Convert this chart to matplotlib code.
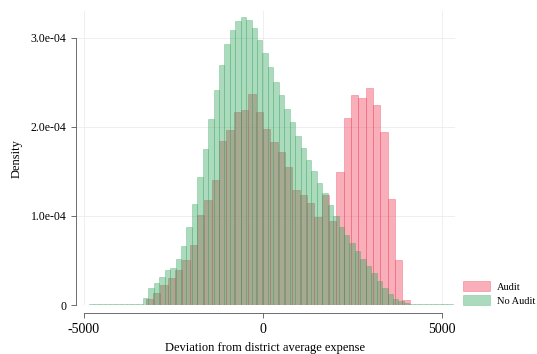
import numpy as np
import matplotlib
matplotlib.use("Agg")
import matplotlib.pyplot as plt

# ---- data (density, units of 1e-4) ----
noaudit_start = -4872.0
noaudit_width = 152.0
noaudit_density = [
    0.006, 0.006, 0.006, 0.006, 0.006, 0.006, 0.006, 0.006, 0.006, 0.01,
    0.08, 0.19, 0.25, 0.32, 0.39, 0.42, 0.52, 0.66, 0.88, 1.14,
    1.44, 1.75, 2.09, 2.41, 2.70, 2.93, 3.09, 3.19, 3.24, 3.20,
    3.11, 2.98, 2.83, 2.67, 2.51, 2.36, 2.20, 2.05, 1.90, 1.76,
    1.63, 1.50, 1.37, 1.26, 1.12, 1.00, 0.88, 0.79, 0.70, 0.61,
    0.52, 0.44, 0.36, 0.27, 0.19, 0.12, 0.07, 0.04, 0.02, 0.01,
    0.006, 0.006, 0.006, 0.006, 0.006, 0.006, 0.006,
]
audit_start = -3272.0
audit_width = 205.0
audit_density = [
    0.07, 0.14, 0.22, 0.30, 0.39, 0.50, 0.67, 1.01, 1.18, 1.40,
    1.84, 1.97, 2.17, 2.19, 2.37, 2.17, 1.98, 1.83, 1.72, 1.55,
    1.29, 1.24, 1.15, 0.99, 1.24, 0.94, 1.49, 2.10, 2.36, 2.33,
    2.44, 2.25, 1.94, 1.19, 0.51, 0.06,
]
series_labels = ["Audit", "No Audit"]
xticks = [-5000, 0, 5000]
yticks = [0, 1e-4, 2e-4, 3e-4]
ytick_labels = ["0", "1.0e-04", "2.0e-04", "3.0e-04"]
xlabel = "Deviation from district average expense"
ylabel = "Density"

plt.rcParams['font.family'] = ['Liberation Serif', 'DejaVu Serif']

fig = plt.figure(figsize=(5.37, 3.54), dpi=100)
ax = fig.add_axes([0.1415, 0.1384, 0.705, 0.83])

a_h = np.array(audit_density) * 1e-4
a_x = audit_start + audit_width * np.arange(len(a_h))
n_h = np.array(noaudit_density) * 1e-4
n_x = noaudit_start + noaudit_width * np.arange(len(n_h))

red = (0.95, 0.22, 0.32)
green = (0.18, 0.64, 0.36)
ax.bar(a_x, a_h, width=audit_width, align='edge', color=red + (0.4,),
       edgecolor=red + (0.45,), linewidth=0.5, label=series_labels[0], zorder=2)
ax.bar(n_x, n_h, width=noaudit_width, align='edge', color=green + (0.4,),
       edgecolor=green + (0.4,), linewidth=0.5, label=series_labels[1], zorder=3)

ax.set_xlim(-5223, 5363)
ax.set_ylim(0, 3.3e-4)
ax.set_xticks(xticks)
ax.set_xticklabels([str(v) for v in xticks], fontsize=7.5)
ax.set_yticks(yticks)
ax.set_yticklabels(ytick_labels, fontsize=8.5)
ax.grid(True, color='#ececec', linewidth=0.6, zorder=0)
ax.set_axisbelow(True)

for s in ['top', 'right']:
    ax.spines[s].set_visible(False)
ax.spines['bottom'].set_position(('outward', 6))
ax.spines['bottom'].set_bounds(-5000, 5000)
ax.spines['left'].set_bounds(0, 3e-4)
for s in ['bottom', 'left']:
    ax.spines[s].set_color('#555555')
    ax.spines[s].set_linewidth(0.6)
ax.tick_params(axis='both', colors='#555555', labelcolor='black', width=0.6, length=3.5)

ax.set_xlabel(xlabel, fontsize=9, labelpad=4)
ax.set_ylabel(ylabel, fontsize=9, labelpad=6)

leg = ax.legend(loc='lower left', bbox_to_anchor=(0.855, 0.125), bbox_transform=fig.transFigure,
                frameon=False, fontsize=7.5, handlelength=2.6, handleheight=1.1,
                handletextpad=0.6, labelspacing=0.3, borderaxespad=0)

fig.savefig("out.png", dpi=100)
